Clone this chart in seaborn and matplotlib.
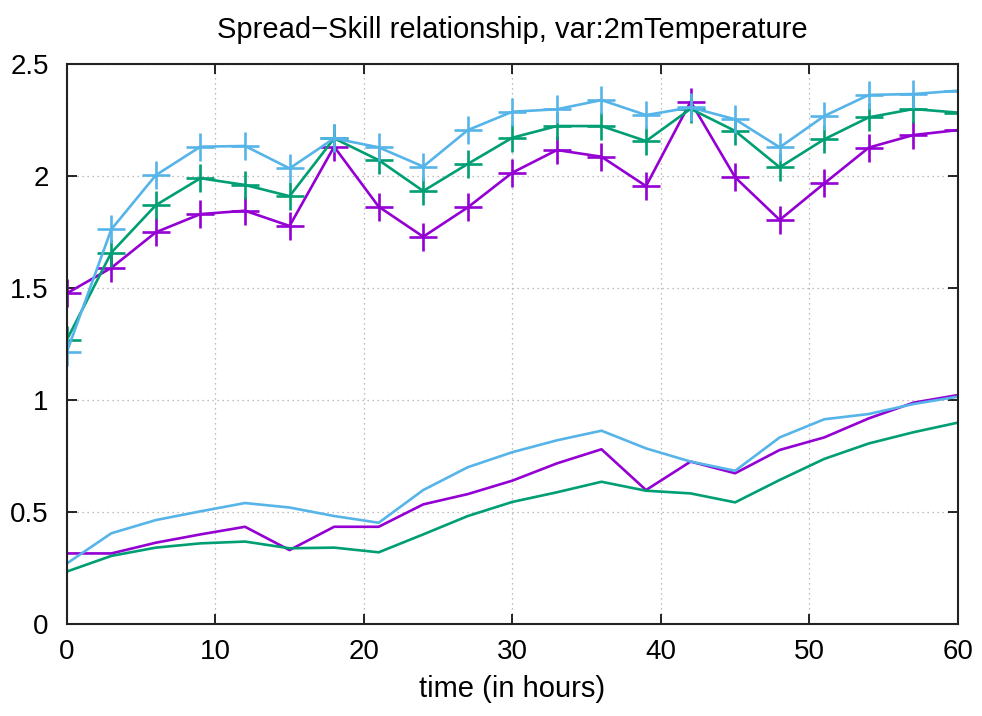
import matplotlib
matplotlib.use("Agg")
import matplotlib.pyplot as plt
import seaborn as sns


# Data

hours = [0, 3, 6, 9, 12, 15, 18, 21, 24, 27, 30, 33, 36, 39, 42, 45, 48, 51, 54, 57, 60]

# upper curves (with + markers)
purple_upper = [1.476, 1.59, 1.749, 1.83, 1.845, 1.777, 2.131, 1.863, 1.729, 1.86, 2.015,
                2.116, 2.086, 1.955, 2.332, 1.994, 1.804, 1.967, 2.127, 2.183, 2.205]
green_upper = [1.268, 1.658, 1.87, 1.99, 1.96, 1.91, 2.168, 2.071, 1.933, 2.054, 2.171,
               2.223, 2.223, 2.156, 2.30, 2.201, 2.039, 2.164, 2.262, 2.299, 2.283]
cyan_upper = [1.214, 1.762, 2.004, 2.131, 2.134, 2.034, 2.168, 2.128, 2.042, 2.205, 2.287,
              2.298, 2.339, 2.272, 2.306, 2.253, 2.128, 2.268, 2.362, 2.366, 2.381]

# lower curves (lines only)
purple_lower = [0.315, 0.315, 0.363, 0.40, 0.434, 0.33, 0.434, 0.434, 0.534, 0.58, 0.64,
                0.717, 0.78, 0.598, 0.725, 0.673, 0.777, 0.833, 0.918, 0.988, 1.022]
green_lower = [0.234, 0.304, 0.341, 0.36, 0.368, 0.338, 0.341, 0.32, 0.40, 0.482, 0.545,
               0.588, 0.635, 0.595, 0.583, 0.543, 0.643, 0.737, 0.806, 0.856, 0.899]
cyan_lower = [0.27, 0.405, 0.464, 0.503, 0.54, 0.52, 0.482, 0.452, 0.598, 0.70, 0.767,
              0.82, 0.863, 0.784, 0.725, 0.684, 0.833, 0.914, 0.9375, 0.982, 1.015]

purple = "#9400d3"
green = "#009e73"
cyan = "#56b4e9"


# Style

sns.set_style("ticks")
plt.rcParams["font.family"] = ["Liberation Sans", "DejaVu Sans"]
plt.rcParams["text.color"] = "black"
plt.rcParams["axes.labelcolor"] = "black"
plt.rcParams["xtick.color"] = "black"
plt.rcParams["ytick.color"] = "black"

fig = plt.figure(figsize=(9.82, 7.16), dpi=100)
ax = fig.add_axes([0.068, 0.1285, 0.9075, 0.7821])


# Lines

for vals, col in [(purple_upper, purple), (green_upper, green), (cyan_upper, cyan)]:
    sns.lineplot(x=hours, y=vals, color=col, marker="+", markersize=20,
                 markeredgewidth=1.9, markeredgecolor=col, linewidth=1.9, ax=ax)

for vals, col in [(purple_lower, purple), (green_lower, green), (cyan_lower, cyan)]:
    sns.lineplot(x=hours, y=vals, color=col, linewidth=1.9, ax=ax)


# Axes

ax.set_xlim(0, 60)
ax.set_ylim(0, 2.5)
ax.set_xticks([0, 10, 20, 30, 40, 50, 60])
ax.set_yticks([0, 0.5, 1, 1.5, 2, 2.5])
ax.set_yticklabels(["0", "0.5", "1", "1.5", "2", "2.5"])
ax.tick_params(direction="in", length=7, width=1.2, labelsize=20,
               top=True, right=True)
ax.tick_params(axis="x", pad=11)
ax.tick_params(axis="y", pad=13)
ax.grid(True, linestyle=(0, (1, 3)), color="#a8a8a8", linewidth=0.9)

for s in ax.spines.values():
    s.set_linewidth(1.5)
    s.set_color("#222222")

ax.set_xlabel("time (in hours)", fontsize=21, labelpad=7)
ax.set_title("Spread\u2212Skill relationship, var:2mTemperature", fontsize=21, pad=19)

fig.savefig("out.png", dpi=100)
